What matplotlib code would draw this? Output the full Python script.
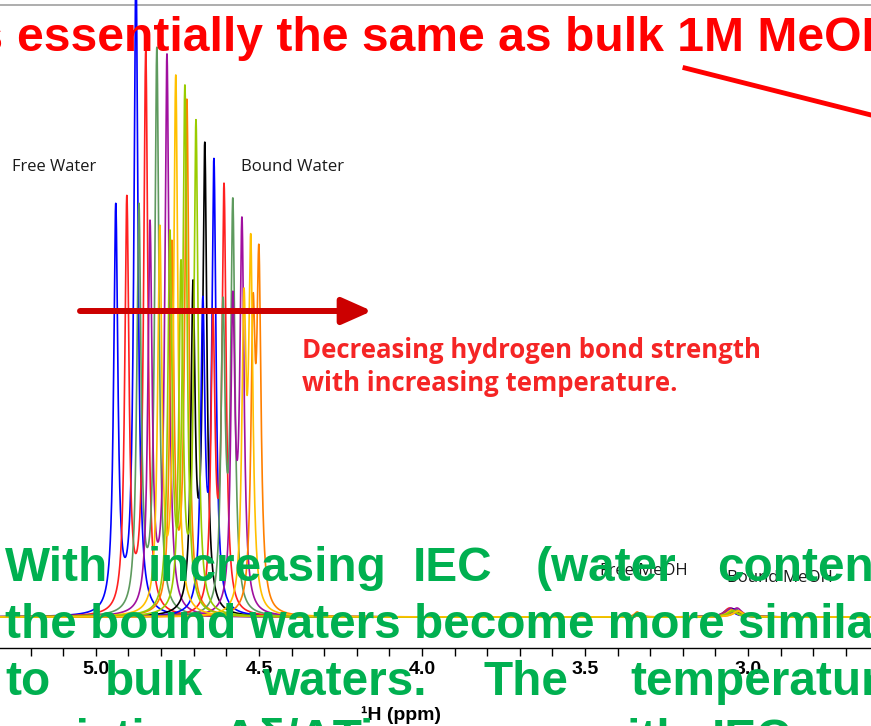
import numpy as np
import matplotlib
matplotlib.use('Agg')
import matplotlib.pyplot as plt
from matplotlib.ticker import MultipleLocator
from matplotlib.lines import Line2D

W, H = 871, 726

# spectra (one per temperature), two water peaks + small MeOH bumps
colors = ['#0000FF', '#FF2020', '#5E9A5E', '#A0109F', '#FFC000', '#99CC00', '#FF8000', '#99CC00',
          '#000000', '#0000FF', '#FF2020', '#5E9A5E', '#A0109F', '#FFC000', '#FF8000']
left_ppm = [4.939, 4.905, 4.868, 4.834, 4.804, 4.773, 4.767, 4.739, 4.702, 4.672, 4.641, 4.610, 4.580, 4.546, 4.518]
left_int = [404, 412, 403, 385, 379, 373, 363, 344, 317, 299, 286, 295, 299, 287, 272]
right_ppm = [4.877, 4.847, 4.813, 4.782, 4.755, 4.727, 4.721, 4.693, 4.666, 4.638, 4.607, 4.580, 4.552, 4.525, 4.500]
right_int = [640, 560, 562, 555, 533, 522, 508, 488, 461, 444, 420, 401, 379, 349, 330]
meoh_ppm = [3.060, 3.057, 3.055, 3.052, 3.050, 3.048, 3.047, 3.045, 3.043, 3.041, 3.038, 3.036, 3.034, 3.031, 3.029]
meoh_int = [8, 9, 8, 9, 7, 6, 7, 6, 8, 8, 7, 7, 9, 6, 6]
free_meoh_ppm = 3.34
free_meoh_int = [1, 1, 1, 1, 1, 1, 5, 1, 1, 1, 1, 1, 1, 1, 1]

xticks = [5.0, 4.5, 4.0, 3.5, 3.0]
xlim = (5.294, 2.623)


def lor(x, x0, h, w):
    return h / (1 + ((x - x0) / w) ** 2)


fig = plt.figure(figsize=(W / 100, H / 100), dpi=100)
r = fig.canvas.get_renderer()

ax = fig.add_axes([0, (H - 648) / H, 1, 648 / H])
ax.set_facecolor('none')
ax.set_xlim(*xlim)
ax.set_ylim(-31, 617)

ppm = np.linspace(5.35, 2.55, 8000)
# draw order: yellow-ish traces last so the shared baseline looks olive like the original
order = [0, 1, 2, 3, 6, 8, 9, 10, 11, 12, 14, 4, 5, 7, 13]
for i in order:
    y = (lor(ppm, left_ppm[i], left_int[i], 0.0077) + lor(ppm, right_ppm[i], right_int[i], 0.0077)
         + lor(ppm, meoh_ppm[i], meoh_int[i], 0.018) + lor(ppm, free_meoh_ppm, free_meoh_int[i], 0.01))
    ax.plot(ppm, y, color=colors[i], lw=1.2, zorder=2)

ax.axhline(612, color='#A0A0A0', lw=1.2, zorder=0)

for s in ['left', 'right', 'top']:
    ax.spines[s].set_visible(False)
ax.spines['bottom'].set_linewidth(1)
ax.set_yticks([])
ax.set_xticks(xticks)
ax.set_xticklabels([f'{t:.1f}' for t in xticks])
ax.xaxis.set_minor_locator(MultipleLocator(0.1))
ax.tick_params(which='both', direction='out', length=6, width=1, pad=3)
for lab in ax.get_xticklabels():
    lab.set_family(['Liberation Sans Narrow', 'Liberation Sans'])
    lab.set_weight('bold')
    lab.set_fontsize(14)


def fit_size(s, width, **kw):
    t = fig.text(0, 0, s, fontsize=20, **kw)
    w = t.get_window_extent(r).width
    t.remove()
    return 20 * width / w


def put(x, y, s, **kw):
    return fig.text(x / W, 1 - y / H, s, va='baseline', **kw)


fig.text(401 / W, 1 - 720 / H, '¹H (ppm)', ha='center', va='baseline', fontsize=14, weight='bold',
         family=['Liberation Sans Narrow', 'Liberation Sans'])

# black peak labels
lab_kw = dict(family='Open Sans', color='#1A1A1A', zorder=3)
put(12, 171, 'Free Water', fontsize=fit_size('Free Water', 84, **lab_kw), **lab_kw)
put(241, 171, 'Bound Water', fontsize=fit_size('Bound Water', 103, **lab_kw), **lab_kw)
put(600, 575, 'Free MeOH', fontsize=fit_size('Free MeOH', 88, **lab_kw), **lab_kw)
put(727, 582, 'Bound MeOH', fontsize=fit_size('Bound MeOH', 106, **lab_kw), **lab_kw)

# red arrow + text
ax.annotate('', xy=(372, H - 311), xytext=(80, H - 311), xycoords='figure pixels',
            arrowprops=dict(arrowstyle='-|>,head_length=1.8,head_width=0.8', lw=4.3, color='#CC0000',
                            mutation_scale=10, shrinkA=0, shrinkB=0), zorder=4)
red_kw = dict(family='Open Sans', weight='bold', color='#F52525', zorder=5)
fs_r = fit_size('Decreasing hydrogen bond strength', 458, **red_kw)
put(302, 358, 'Decreasing hydrogen bond strength', fontsize=fs_r, **red_kw)
put(302, 391, 'with increasing temperature.', fontsize=fs_r, **red_kw)

# top red text and line
top_kw = dict(family='Liberation Sans', weight='bold', color='#FF0000', zorder=5)
fs_t = fit_size('essentially the same as bulk 1M MeO', 841, **top_kw)
put(17, 51, 'essentially the same as bulk 1M MeOH', fontsize=fs_t, **top_kw)
put(17 - 0.278 * fs_t * 100 / 72, 51, 'is', fontsize=fs_t, ha='right', **top_kw)
fig.add_artist(Line2D([685 / W, 1.0], [1 - 68 / H, 1 - 115 / H], color='#FF0000', lw=3.5, zorder=5))

# green overlay text (justified lines placed word by word)
g_kw = dict(family='Liberation Sans', weight='bold', color='#00B050', zorder=6)
fs_g = fit_size('the bound waters become more simila', 866, **g_kw)
lines = [
    (581, [('With', 5), ('increasing', 148), ('IEC', 413), ('(water', 536), ('content)', 717)]),
    (638, [('the bound waters become more similar', 5)]),
    (695, [('to', 5), ('bulk', 105), ('waters.', 262), ('The', 483), ('temperature', 630)]),
    (753, [('variation', 5), ('Δδ/ΔT', 222), ('increases', 360), ('with', 590), ('IEC', 712)]),
]
for yb, words in lines:
    for word, x in words:
        put(x, yb, word, fontsize=fs_g, **g_kw)

fig.savefig('out.png', dpi=100)
